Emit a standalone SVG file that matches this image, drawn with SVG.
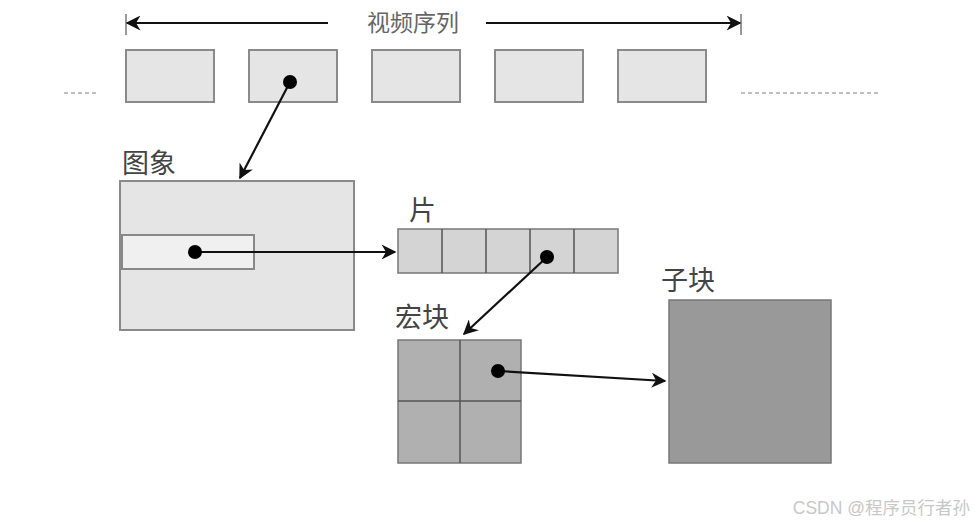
<svg xmlns="http://www.w3.org/2000/svg" width="976" height="525" viewBox="0 0 976 525">
<defs>
<marker id="ah" viewBox="0 0 10 10" refX="9" refY="5" markerWidth="15" markerHeight="15" markerUnits="userSpaceOnUse" orient="auto">
<path d="M0,0 L10,5 L0,10 L3,5 z" fill="#111"/>
</marker>
<style>
.lbl{font-family:"Liberation Serif","Noto Sans CJK SC",serif;font-size:27px;fill:#444}
.frame{fill:#e5e5e5;stroke:#8a8a8a;stroke-width:2}
.conn{stroke:#111;stroke-width:2.2;fill:none;marker-end:url(#ah)}
.dot{fill:#000}
.grid{stroke:#555;stroke-width:1.5}
</style>
</defs>
<rect width="976" height="525" fill="#fff"/>
<g id="sequence">
<line x1="126" y1="14" x2="126" y2="35" stroke="#777" stroke-width="1.5"/>
<line x1="741" y1="14" x2="741" y2="35" stroke="#777" stroke-width="1.5"/>
<line x1="328" y1="23" x2="127" y2="23" class="conn"/>
<line x1="486" y1="23" x2="740" y2="23" class="conn"/>
<text x="413" y="31" text-anchor="middle" class="lbl" style="font-size:23px;fill:#666">视频序列</text>
<line x1="64" y1="93" x2="96" y2="93" stroke="#aaa" stroke-width="1.5" stroke-dasharray="4,3"/>
<line x1="741" y1="93" x2="881" y2="93" stroke="#aaa" stroke-width="1.5" stroke-dasharray="4,3"/>
</g>
<g id="frame1"><rect x="126" y="50" width="88" height="52" class="frame"/></g>
<g id="frame2"><rect x="249" y="50" width="88" height="52" class="frame"/></g>
<g id="frame3"><rect x="372" y="50" width="88" height="52" class="frame"/></g>
<g id="frame4"><rect x="495" y="50" width="88" height="52" class="frame"/></g>
<g id="frame5"><rect x="618" y="50" width="88" height="52" class="frame"/></g>
<g id="image">
<text x="122" y="173" class="lbl">图象</text>
<rect x="120" y="181" width="234" height="149" class="frame"/>
<rect x="122" y="235" width="132" height="34" fill="#f0f0f0" stroke="#888" stroke-width="2"/>
</g>
<g id="slice">
<text x="409" y="220" class="lbl">片</text>
<rect x="398" y="229" width="220" height="44" fill="#d4d4d4" stroke="#777" stroke-width="1.5"/>
<line x1="442" y1="229" x2="442" y2="273" class="grid"/>
<line x1="486" y1="229" x2="486" y2="273" class="grid"/>
<line x1="530" y1="229" x2="530" y2="273" class="grid"/>
<line x1="574" y1="229" x2="574" y2="273" class="grid"/>
</g>
<g id="macroblock">
<text x="395" y="327" class="lbl">宏块</text>
<rect x="398" y="340" width="123" height="123" fill="#b0b0b0" stroke="#777" stroke-width="1.5"/>
<line x1="460" y1="340" x2="460" y2="463" class="grid"/>
<line x1="398" y1="401" x2="521" y2="401" class="grid"/>
</g>
<g id="subblock">
<text x="661" y="290" class="lbl">子块</text>
<rect x="669" y="300" width="162" height="163" fill="#999" stroke="#777" stroke-width="1.5"/>
</g>
<g id="connectors">
<line x1="290" y1="82" x2="240" y2="178" class="conn"/>
<circle cx="290" cy="82" r="7" class="dot"/>
<line x1="195" y1="252" x2="395" y2="252" class="conn"/>
<circle cx="195" cy="252" r="7" class="dot"/>
<line x1="547" y1="257" x2="464" y2="334" class="conn"/>
<circle cx="547" cy="257" r="7" class="dot"/>
<line x1="498" y1="371" x2="665" y2="381" class="conn"/>
<circle cx="498" cy="371" r="7" class="dot"/>
</g>
<text x="970" y="514" text-anchor="end" style="font-family:'Liberation Sans','Noto Sans CJK SC',sans-serif;font-size:17.5px;fill:#c8c8c8">CSDN @程序员行者孙</text>
</svg>
